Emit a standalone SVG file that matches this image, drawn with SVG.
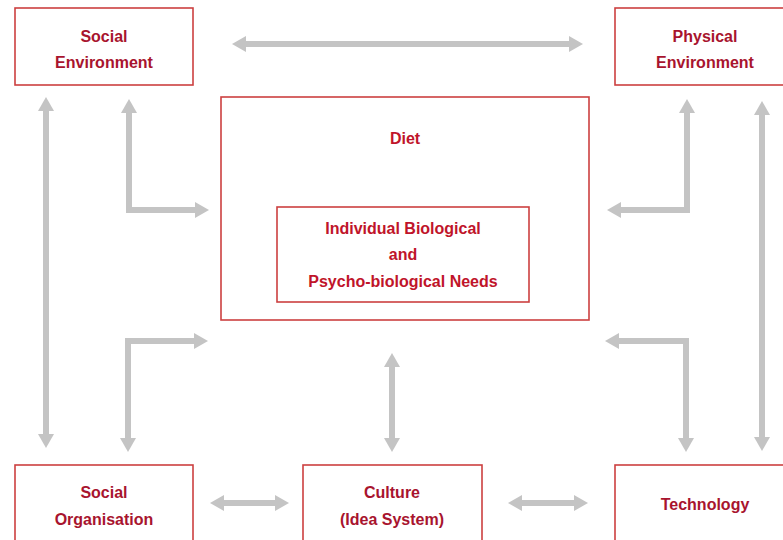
<svg xmlns="http://www.w3.org/2000/svg" width="783" height="540" viewBox="0 0 783 540">
<style>
.box{fill:#ffffff;stroke:#cc4040;stroke-width:1.6}
.t{font-family:"Liberation Sans",Arial,sans-serif;font-weight:bold;font-size:16px;fill:#a8142e;text-anchor:middle}
.t2{fill:#c0142a}
.c{fill:none;stroke:#c4c4c4;stroke-width:6;stroke-linejoin:miter;marker-start:url(#ah);marker-end:url(#ah)}
</style>
<defs>
<marker id="ah" viewBox="0 0 14 16" refX="0" refY="8" markerWidth="14" markerHeight="16" markerUnits="userSpaceOnUse" orient="auto-start-reverse">
<path d="M0,0 L14,8 L0,16 z" fill="#c4c4c4"/>
</marker>
</defs>
<rect width="783" height="540" fill="#ffffff"/>
<g id="connectors">
<path class="c" d="M246,44 H569"/>
<path class="c" d="M46,111 V434"/>
<path class="c" d="M129,113 V210 H195"/>
<path class="c" d="M687,113 V210 H621"/>
<path class="c" d="M762,115 V437"/>
<path class="c" d="M194,341 H128 V438"/>
<path class="c" d="M619,341 H686 V438"/>
<path class="c" d="M392,367 V438"/>
<path class="c" d="M224,503 H275"/>
<path class="c" d="M522,503 H574"/>
</g>
<g id="social-environment">
<rect class="box" x="15" y="8" width="178" height="77"/>
<text class="t" x="104" y="42">Social</text>
<text class="t" x="104" y="68">Environment</text>
</g>
<g id="physical-environment">
<rect class="box" x="615" y="8" width="180" height="77"/>
<text class="t" x="705" y="42">Physical</text>
<text class="t" x="705" y="68">Environment</text>
</g>
<g id="diet">
<rect class="box" x="221" y="97" width="368" height="223"/>
<text class="t t2" x="405" y="144">Diet</text>
</g>
<g id="needs">
<rect class="box" x="277" y="207" width="252" height="95"/>
<text class="t t2" x="403" y="234">Individual Biological</text>
<text class="t t2" x="403" y="260">and</text>
<text class="t t2" x="403" y="287">Psycho-biological Needs</text>
</g>
<g id="social-organisation">
<rect class="box" x="15" y="465" width="178" height="90"/>
<text class="t" x="104" y="498">Social</text>
<text class="t" x="104" y="525">Organisation</text>
</g>
<g id="culture">
<rect class="box" x="303" y="465" width="179" height="90"/>
<text class="t" x="392" y="498">Culture</text>
<text class="t" x="392" y="525">(Idea System)</text>
</g>
<g id="technology">
<rect class="box" x="615" y="465" width="180" height="90"/>
<text class="t" x="705" y="510">Technology</text>
</g>
</svg>
